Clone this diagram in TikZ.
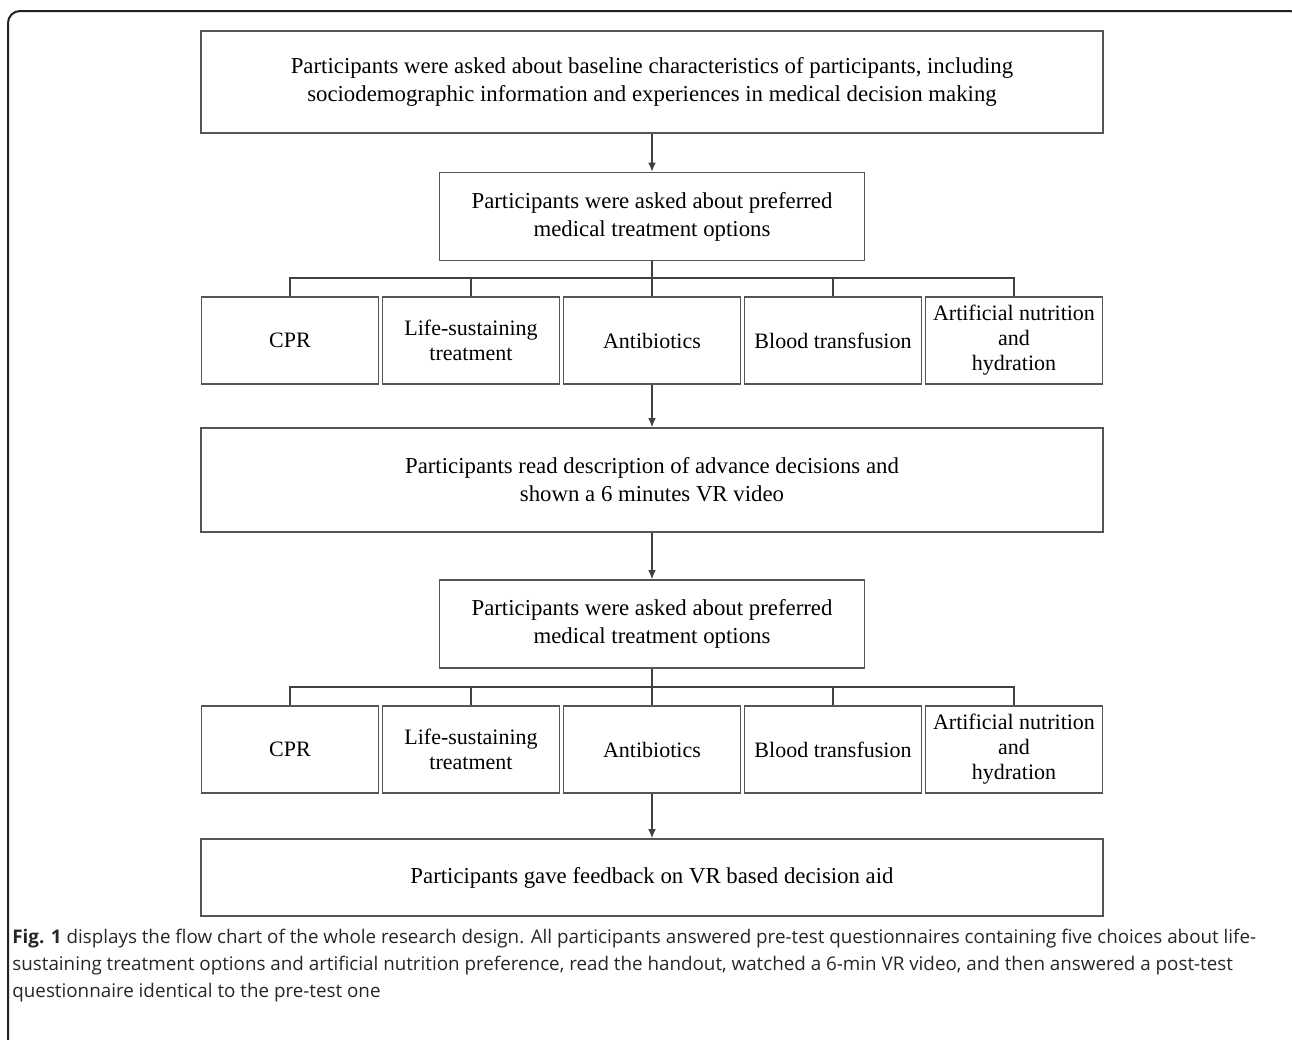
\documentclass[tikz,border=0pt]{standalone}
\usepackage{fontspec}
\setmainfont{Liberation Serif}
\newfontfamily\capfont{Open Sans}
\usepackage{tikz}
\usetikzlibrary{arrows.meta}
\usepackage{xcolor}
\definecolor{boxline}{HTML}{555555}
\definecolor{framecol}{HTML}{222222}

\begin{document}
\begin{tikzpicture}[x=0.5pt,y=-0.5pt,
  box/.style={draw=boxline,line width=0.8pt,inner sep=0pt,align=center},
  wide/.style={box,minimum width=451pt,font=\fontsize{11.4}{14}\selectfont},
  mid/.style={box,minimum width=212.5pt,minimum height=44pt,font=\fontsize{11.4}{14}\selectfont},
  opt/.style={box,minimum width=88.5pt,minimum height=43.5pt,font=\fontsize{11}{12.5}\selectfont},
  link/.style={draw=black!75,line width=0.6pt},
  flow/.style={link,-{Latex[length=4.5pt,width=3.8pt]}}]
\useasboundingbox (0,0) rectangle (1292,1040);
\clip (0,0) rectangle (1292,1040);
% frame
\draw[framecol,line width=1pt,rounded corners=6pt] (8,1060) -- (8,11) -- (1302,11) -- (1302,1060);
% first questions
\node[wide,minimum height=51pt] (base) at (652,82) {Participants were asked about baseline characteristics of participants, including\\sociodemographic information and experiences in medical decision making};
\node[mid] (pre) at (652,216.5) {Participants were asked about preferred\\medical treatment options};
\node[opt] (cpr1) at (290,340.5) {CPR};
\node[opt] (life1) at (471,340.5) {Life-sustaining\\treatment};
\node[opt] (anti1) at (652,340.5) {Antibiotics};
\node[opt] (blood1) at (833,340.5) {Blood transfusion};
\node[opt] (art1) at (1014,340.5) {Artificial nutrition\\and\\hydration};
\coordinate (fork1) at (652,278);
\draw[flow] (base.south) -- (pre.north);
\draw[link] (pre.south) -- (anti1.north);
\draw[link] (cpr1.north) |- (fork1) -| (art1.north);
\draw[link] (life1.north) -- (life1.north |- fork1);
\draw[link] (blood1.north) -- (blood1.north |- fork1);
% video
\node[wide,minimum height=52pt] (read) at (652,480) {Participants read description of advance decisions and\\shown a 6 minutes VR video};
\draw[flow] (anti1.south) -- (read.north);
% second questions
\node[mid] (post) at (652,624) {Participants were asked about preferred\\medical treatment options};
\node[opt] (cpr2) at (290,749.5) {CPR};
\node[opt] (life2) at (471,749.5) {Life-sustaining\\treatment};
\node[opt] (anti2) at (652,749.5) {Antibiotics};
\node[opt] (blood2) at (833,749.5) {Blood transfusion};
\node[opt] (art2) at (1014,749.5) {Artificial nutrition\\and\\hydration};
\coordinate (fork2) at (652,687);
\draw[flow] (read.south) -- (post.north);
\draw[link] (post.south) -- (anti2.north);
\draw[link] (cpr2.north) |- (fork2) -| (art2.north);
\draw[link] (life2.north) -- (life2.north |- fork2);
\draw[link] (blood2.north) -- (blood2.north |- fork2);
% feedback
\node[wide,minimum height=38.5pt] (aid) at (652,877.5) {Participants gave feedback on VR based decision aid};
\draw[flow] (anti2.south) -- (aid.north);
% caption
\node[anchor=base west,align=left,inner sep=0pt,text=black!85,font=\capfont\fontsize{9.4}{13.5}\selectfont] (cap) at (12,997) {\textbf{Fig. 1} displays the flow chart of the whole research design. All participants answered pre-test questionnaires containing five choices about life-\\sustaining treatment options and artificial nutrition preference, read the handout, watched a 6-min VR video, and then answered a post-test\\questionnaire identical to the pre-test one};
\end{tikzpicture}
\end{document}
